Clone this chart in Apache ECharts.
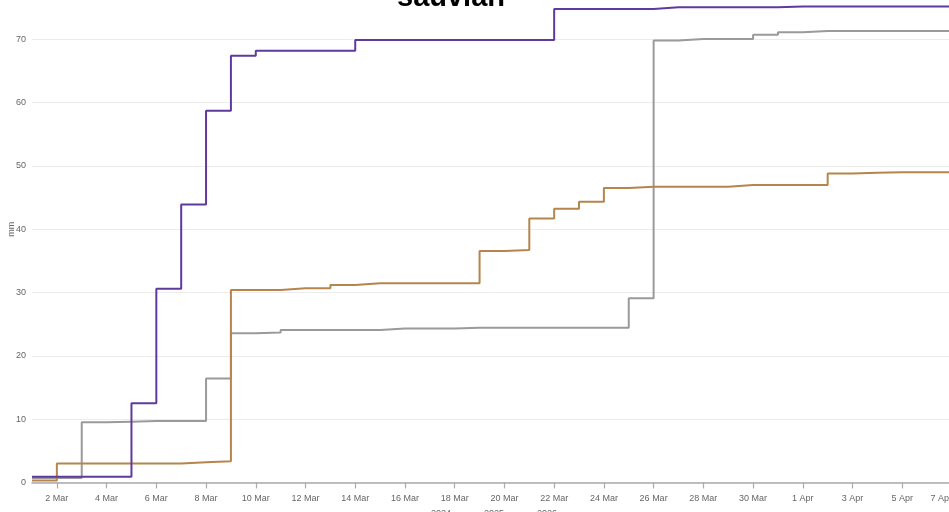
<!DOCTYPE html>
<html>
<head>
<meta charset="utf-8">
<script src="https://cdn.jsdelivr.net/npm/echarts@6/dist/echarts.min.js"></script>
<style>html,body{margin:0;padding:0;background:#fff}#c{width:949px;height:512px}</style>
</head>
<body>
<div id="c"></div>
<script>
// day numbers: 1 = 1 Mar, 32 = 1 Apr, 38 = 7 Apr
const days = Array.from({length: 38}, (_, i) => i + 1);
const tickDays = [2,4,6,8,10,12,14,16,18,20,22,24,26,28,30,32,34,36,38];
const tickLabels = ['2 Mar','4 Mar','6 Mar','8 Mar','10 Mar','12 Mar','14 Mar','16 Mar','18 Mar','20 Mar','22 Mar','24 Mar','26 Mar','28 Mar','30 Mar','1 Apr','3 Apr','5 Apr','7 Apr'];
const seriesNames = ['2024','2025','2026'];
const v2024 = [0.7,0.7,9.5,9.6,9.7,9.7,9.7,16.4,23.55,23.7,24.07,24.07,24.07,24.07,24.3,24.3,24.3,24.45,24.45,24.45,24.45,24.45,24.45,24.45,29.1,69.8,70.05,70.05,70.05,70.7,71.1,71.3,71.3,71.3,71.3,71.3,71.3,71.3];
const v2025 = [0.3,3.0,3.0,3.0,3.0,3.0,3.2,3.35,30.4,30.4,30.66,30.66,31.2,31.45,31.45,31.45,31.45,31.45,36.55,36.7,41.7,43.25,44.35,46.5,46.7,46.7,46.7,46.7,47.0,47.0,47.0,47.0,48.8,48.9,49.0,49.0,49.0,49.0];
const v2026 = [0.9,0.9,0.9,0.9,12.5,30.6,43.9,58.7,67.4,68.2,68.2,68.2,68.2,69.9,69.9,69.9,69.9,69.9,69.9,69.9,69.9,74.8,74.8,74.8,74.8,75.05,75.05,75.05,75.05,75.05,75.2,75.2,75.2,75.2,75.2,75.2,75.2,75.2];
const yTicks = [0,10,20,30,40,50,60,70,80];

const colors = ['#9a9a9a', '#b5854c', '#5f3a9e'];
const allVals = [v2024, v2025, v2026];

const chart = echarts.init(document.getElementById('c'));
chart.setOption({
  animation: false,
  title: {
    text: 'sauvian', left: 392, top: -22,
    textStyle: {fontFamily: 'Liberation Sans, Arial, sans-serif', fontWeight: 'bold', fontSize: 29, color: '#000'}
  },
  legend: {
    left: 408, top: 504, itemWidth: 13, itemHeight: 2, itemGap: 15, icon: 'rect',
    textStyle: {fontSize: 9, color: '#666', fontFamily: 'Liberation Sans, Arial, sans-serif'},
    data: seriesNames
  },
  grid: {left: 32, top: -24, width: 920, height: 506.4, containLabel: false, outerBoundsMode: 'none'},
  xAxis: {
    type: 'value', min: 1, max: 38,
    axisLine: {lineStyle: {color: '#aaaaaa', width: 1.5}},
    axisTick: {customValues: tickDays, length: 6, lineStyle: {color: '#aaaaaa', width: 1.2}},
    axisLabel: {
      customValues: tickDays, margin: 12, fontSize: 9, color: '#666',
      fontFamily: 'Liberation Sans, Arial, sans-serif', alignMaxLabel: 'right',
      formatter: v => tickLabels[tickDays.indexOf(v)]
    },
    splitLine: {show: false}
  },
  yAxis: {
    type: 'value', min: 0, max: 80, interval: 10,
    name: 'mm', nameLocation: 'middle', nameGap: 15.5, nameMoveOverlap: false,
    nameTextStyle: {fontSize: 9, color: '#666', fontFamily: 'Liberation Sans, Arial, sans-serif'},
    axisLine: {show: false}, axisTick: {show: false},
    axisLabel: {margin: 6, fontSize: 9, color: '#666', fontFamily: 'Liberation Sans, Arial, sans-serif',
      formatter: v => yTicks.includes(v) ? String(v) : ''},
    splitLine: {lineStyle: {color: '#ececec', width: 1}}
  },
  series: seriesNames.map((n, k) => ({
    name: n, type: 'line', step: 'end', showSymbol: false,
    color: colors[k],
    lineStyle: {width: 2, color: colors[k]},
    data: days.map((d, i) => [d, allVals[k][i]])
  }))
});
</script>
</body>
</html>
